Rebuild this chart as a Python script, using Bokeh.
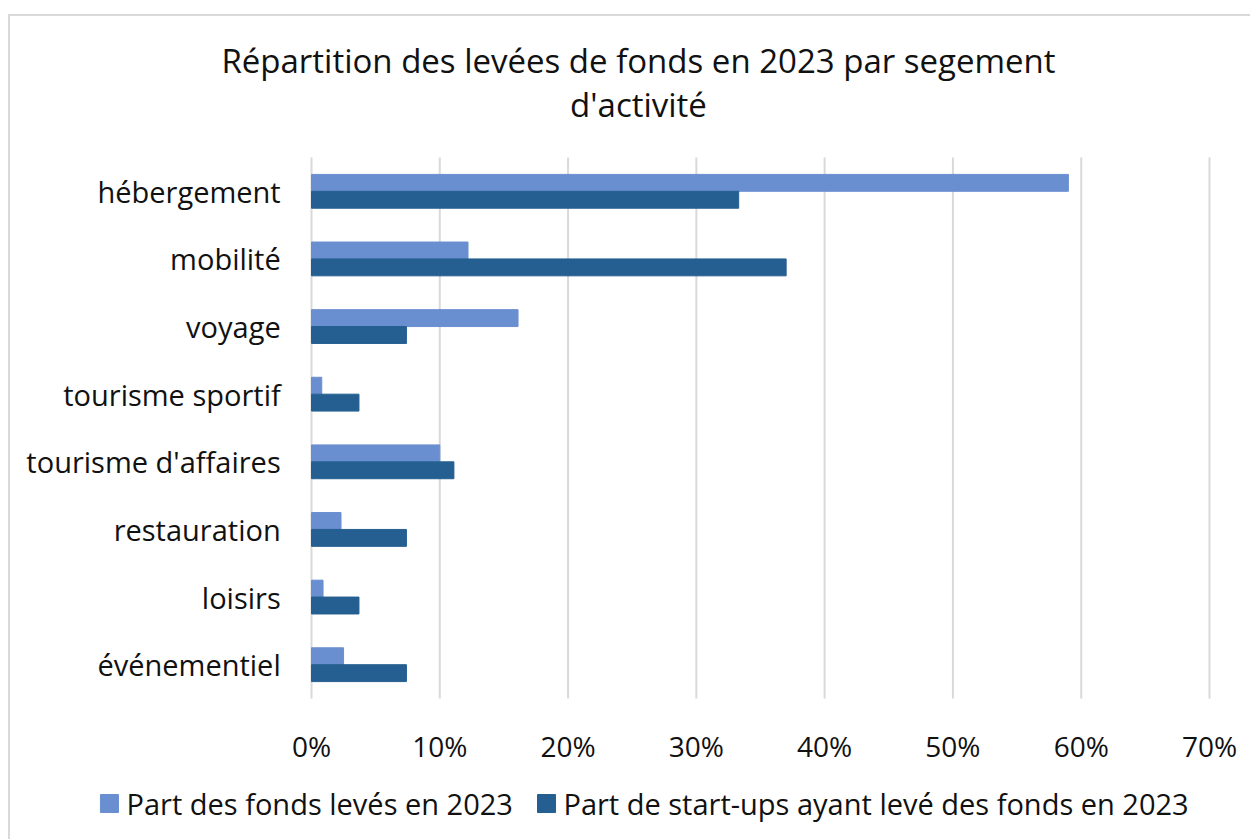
from bokeh.plotting import figure
from bokeh.models import Range1d, ColumnDataSource
from bokeh.core.properties import value
from bokeh.transform import dodge
from bokeh.embed import file_html
from bokeh.resources import INLINE

# ---- data ----
categories = ["hébergement", "mobilité", "voyage", "tourisme sportif",
              "tourisme d'affaires", "restauration", "loisirs", "événementiel"]
fonds = [0.590, 0.122, 0.161, 0.008, 0.100, 0.023, 0.009, 0.025]
startups = [0.333, 0.370, 0.074, 0.037, 0.111, 0.074, 0.037, 0.074]
x_ticks = [0, 0.1, 0.2, 0.3, 0.4, 0.5, 0.6, 0.7]
tick_labels = ["0%", "10%", "20%", "30%", "40%", "50%", "60%", "70%"]
title_lines = ["Répartition des levées de fonds en 2023 par segement", "d'activité"]
series_names = ["Part des fonds levés en 2023", "Part de start-ups ayant levé des fonds en 2023"]

# ---- style / layout ----
LIGHT = "#6a8fd0"
DARK = "#255f91"
GRID = "#d9d9d9"
FONT = "Open Sans"
TXT = "#111111"
BAR_H = 0.25
LABEL_X = -0.024                   # right end of the category labels
PLOT_TOP, PLOT_BOTTOM = 7.5, -0.5  # extent of the category area
TICK_Y = -1.195                    # x tick labels row
TITLE_X, TITLE_Y = 0.2549, [8.934, 8.284]
LEG_Y = -2.053
LEG_SQ_X = [-0.1575, 0.1832]
LEG_TXT_X = [-0.1442, 0.1964]

n = len(categories)
ys = [n - 1 - i for i in range(n)]

src = ColumnDataSource(dict(cat=categories, y=ys, fonds=fonds, startups=startups,
                            lx=[LABEL_X] * n))

p = figure(frame_width=1240, frame_height=823, output_backend="svg", toolbar_location=None,
           x_range=Range1d(-0.23463, 0.73196), y_range=Range1d(-2.585, 9.585),
           x_axis_location=None, y_axis_location=None)
p.margin = (14, 0, 0, 8)
p.styles = {"border-left": "2px solid #d9d9d9", "border-top": "2px solid #d9d9d9"}
p.min_border = 0
p.min_border_left = 0
p.min_border_right = 0
p.min_border_top = 0
p.min_border_bottom = 0
p.outline_line_color = None
p.background_fill_color = "white"
p.border_fill_color = "white"
p.xgrid.visible = False
p.ygrid.visible = False

# vertical grid lines at the ticks
p.segment(x0=x_ticks, x1=x_ticks, y0=[PLOT_BOTTOM] * len(x_ticks), y1=[PLOT_TOP] * len(x_ticks),
          line_color=GRID, line_width=2)

# bars
r1 = p.hbar(y=dodge("y", BAR_H / 2), right="fonds", left=0, height=BAR_H,
            source=src, fill_color=LIGHT, line_color=LIGHT)
r2 = p.hbar(y=dodge("y", -BAR_H / 2), right="startups", left=0, height=BAR_H,
            source=src, fill_color=DARK, line_color=DARK)

# category labels
p.text(x="lx", y="y", text="cat", source=src, text_align="right", text_baseline="middle",
       text_font=value(FONT), text_font_size="29px", text_color=TXT)

# x tick labels
p.text(x=x_ticks, y=[TICK_Y] * len(x_ticks), text=tick_labels, text_align="center",
       text_baseline="middle", text_font=value(FONT), text_font_size="28px", text_color=TXT)

# title
p.text(x=[TITLE_X] * 2, y=TITLE_Y, text=title_lines, text_align="center",
       text_baseline="middle", text_font=value(FONT), text_font_size="33px", text_color=TXT)

# legend
p.scatter(x=LEG_SQ_X, y=[LEG_Y] * 2, marker="square", size=18, fill_color=[LIGHT, DARK],
          line_color=[LIGHT, DARK])
p.text(x=LEG_TXT_X, y=[LEG_Y] * 2, text=series_names, text_align="left",
       text_baseline="middle", text_font=value(FONT), text_font_size="29px", text_color=TXT)

open("out.html", "w").write(file_html(p, INLINE))
